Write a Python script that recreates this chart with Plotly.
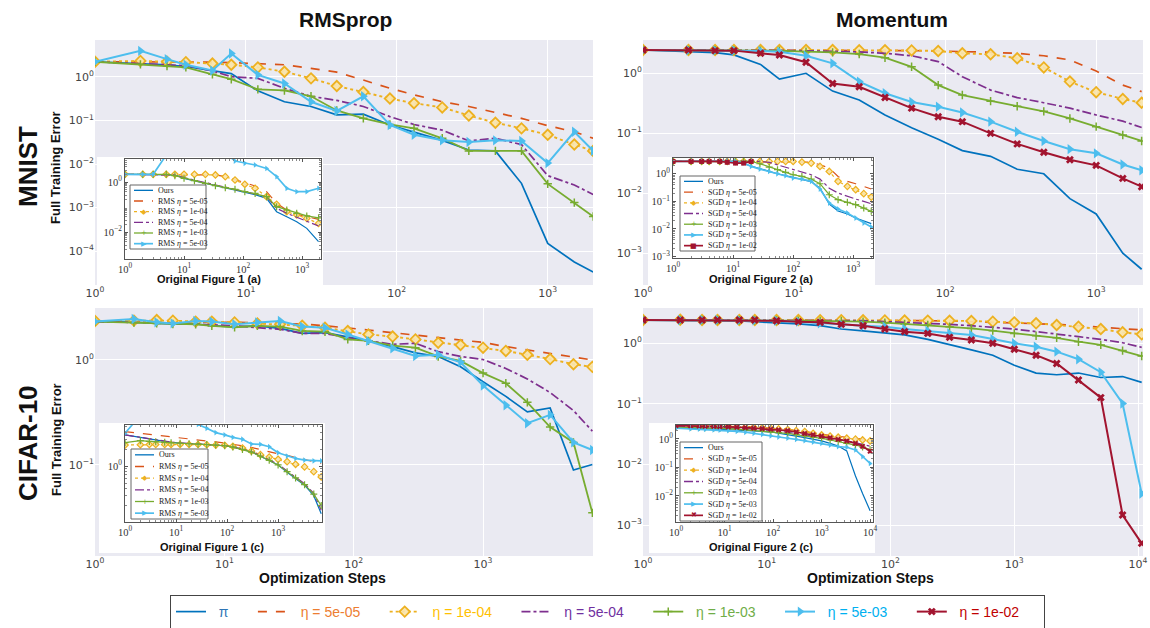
import plotly.graph_objects as go

W, H = 1150, 628

# ---------------- data ----------------
LEGEND_TEXT = ["π", "η = 5e-05", "η = 1e-04", "η = 5e-04", "η = 1e-03", "η = 5e-03", "η = 1e-02"]
LEGEND_TEXT_COLORS = ["#2E75B6", "#ED7D31", "#FFC000", "#7030A0", "#70AD47", "#00B0F0", "#C00000"]
RMS_LABELS = ["Ours", "RMS <i>η</i> = 5e-05", "RMS <i>η</i> = 1e-04", "RMS <i>η</i> = 5e-04",
              "RMS <i>η</i> = 1e-03", "RMS <i>η</i> = 5e-03"]
SGD_LABELS = ["Ours", "SGD <i>η</i> = 5e-05", "SGD <i>η</i> = 1e-04", "SGD <i>η</i> = 5e-04",
              "SGD <i>η</i> = 1e-03", "SGD <i>η</i> = 5e-03", "SGD <i>η</i> = 1e-02"]
COL_TITLES = ["RMSprop", "Momentum"]
ROW_TITLES = ["MNIST", "CIFAR-10"]
Y_TITLE = "Full Training Error"
X_TITLE = "Optimization Steps"
INSET_TITLES = ["Original Figure 1 (a)", "Original Figure 2 (a)", "Original Figure 1 (c)", "Original Figure 2 (c)"]

# main panels ---------------------------------------------------------
steps_mnist = [1, 2, 3, 4, 6, 8, 12, 18, 27, 40, 60, 90, 130, 200, 300, 450, 670, 1000, 1500, 2000]
steps_cifar_rms = [1, 2, 3, 4, 6, 8, 12, 18, 27, 40, 60, 90, 130, 200, 300, 450, 670, 1000, 1500,
                   2200, 3300, 5000, 7000]
steps_cifar_sgd = [1, 2, 3, 4, 6, 8, 12, 18, 27, 40, 60, 90, 130, 200, 300, 450, 670, 1000, 1500,
                   2200, 3300, 5000, 7500, 10700]

rms_mnist_ours = [2.24, 2.0, 1.9, 1.74, 1.38, 1.2, 0.48, 0.27, 0.21, 0.135, 0.14, 0.079, 0.054, 0.035,
                  0.021, 0.020, 0.0036, 1.5e-4, 5.6e-5, 3.3e-5]
rms_mnist_5e5 = [2.24, 2.24, 2.24, 2.19, 2.19, 2.14, 2.04, 1.91, 1.58, 1.29, 0.85, 0.55, 0.39, 0.27,
                 0.21, 0.155, 0.112, 0.076, 0.055, 0.039]
rms_mnist_1e4 = [2.24, 2.34, 2.24, 2.19, 2.04, 1.91, 1.66, 1.32, 0.93, 0.62, 0.45, 0.32, 0.25, 0.20,
                 0.13, 0.089, 0.066, 0.047, 0.028, 0.020]
rms_mnist_5e4 = [2.24, 2.04, 1.95, 1.82, 1.38, 1.02, 0.93, 0.55, 0.36, 0.29, 0.21, 0.123, 0.081, 0.060,
                 0.034, 0.039, 0.028, 0.0054, 0.0033, 0.0020]
rms_mnist_1e3 = [2.24, 1.95, 1.78, 1.66, 1.15, 0.89, 0.52, 0.49, 0.36, 0.17, 0.112, 0.081, 0.066, 0.039,
                 0.020, 0.020, 0.020, 0.0035, 0.0013, 0.00062]
rms_mnist_5e3 = [2.24, 3.98, 2.57, 1.91, 1.41, 3.47, 1.12, 0.71, 0.27, 0.166, 0.36, 0.079, 0.047, 0.035,
                 0.032, 0.035, 0.034, 0.0105, 0.055, 0.020]

sgd_mnist_ours = [2.42, 2.27, 2.18, 2.0, 1.39, 0.79, 0.99, 0.50, 0.355, 0.20, 0.123, 0.079, 0.051, 0.041,
                  0.025, 0.021, 0.0081, 0.0045, 0.0010, 0.00054]
sgd_mnist_5e5 = [2.42, 2.42, 2.42, 2.42, 2.41, 2.41, 2.40, 2.40, 2.39, 2.38, 2.36, 2.33, 2.30, 2.21,
                 2.13, 1.94, 1.65, 1.08, 0.63, 0.49]
sgd_mnist_1e4 = [2.42, 2.42, 2.42, 2.42, 2.42, 2.42, 2.41, 2.41, 2.40, 2.40, 2.38, 2.33, 2.13, 2.05,
                 1.76, 1.24, 0.72, 0.48, 0.37, 0.32]
sgd_mnist_5e4 = [2.42, 2.42, 2.42, 2.41, 2.40, 2.38, 2.35, 2.30, 2.25, 2.13, 1.94, 1.55, 0.87, 0.52,
                 0.39, 0.32, 0.26, 0.20, 0.158, 0.124]
sgd_mnist_1e3 = [2.42, 2.40, 2.39, 2.37, 2.36, 2.35, 2.27, 2.21, 2.07, 1.80, 1.27, 0.63, 0.43, 0.34,
                 0.28, 0.23, 0.175, 0.128, 0.093, 0.074]
sgd_mnist_5e3 = [2.42, 2.40, 2.38, 2.37, 2.33, 2.27, 1.94, 1.45, 0.72, 0.46, 0.33, 0.275, 0.22, 0.155,
                 0.105, 0.074, 0.054, 0.046, 0.030, 0.024]
sgd_mnist_1e2 = [2.42, 2.42, 2.36, 2.36, 2.13, 2.0, 1.51, 0.67, 0.59, 0.39, 0.26, 0.187, 0.155, 0.099,
                 0.066, 0.048, 0.036, 0.029, 0.0176, 0.0128]

rms_cifar_ours = [2.32, 2.29, 2.23, 2.20, 2.20, 2.12, 2.07, 2.11, 2.0, 1.79, 1.82, 1.67, 1.52, 1.34, 1.17,
                  1.08, 0.86, 0.62, 0.45, 0.32, 0.35, 0.0895, 0.101]
rms_cifar_5e5 = [2.35, 2.34, 2.33, 2.32, 2.31, 2.30, 2.28, 2.26, 2.23, 2.20, 2.12, 2.03, 1.93, 1.82, 1.73,
                 1.63, 1.55, 1.47, 1.34, 1.25, 1.16, 1.08, 1.0]
rms_cifar_1e4 = [2.35, 2.37, 2.40, 2.37, 2.32, 2.32, 2.28, 2.23, 2.19, 2.12, 2.03, 1.89, 1.75, 1.67, 1.57,
                 1.46, 1.39, 1.31, 1.22, 1.12, 1.02, 0.91, 0.86]
rms_cifar_5e4 = [2.32, 2.29, 2.26, 2.24, 2.20, 2.16, 2.12, 2.03, 1.96, 1.79, 1.79, 1.63, 1.52, 1.41, 1.44,
                 1.20, 1.08, 1.01, 0.83, 0.66, 0.49, 0.33, 0.21]
rms_cifar_1e3 = [2.32, 2.27, 2.23, 2.20, 2.19, 2.11, 2.05, 2.11, 2.08, 1.89, 1.86, 1.57, 1.52, 1.37, 1.31,
                 1.08, 0.98, 0.75, 0.60, 0.395, 0.23, 0.164, 0.035]
rms_cifar_5e3 = [2.32, 2.46, 2.29, 2.23, 2.35, 2.32, 2.19, 2.28, 2.35, 2.08, 2.03, 1.75, 1.52, 1.29, 1.09,
                 1.12, 0.95, 0.57, 0.37, 0.25, 0.30, 0.164, 0.139]

sgd_cifar_ours = [2.39, 2.39, 2.33, 2.33, 2.31, 2.25, 2.16, 2.06, 1.93, 1.70, 1.58, 1.44, 1.36, 1.15, 0.93,
                  0.77, 0.63, 0.43, 0.32, 0.30, 0.32, 0.27, 0.28, 0.225]
sgd_cifar_5e5 = [2.39, 2.39, 2.39, 2.39, 2.39, 2.39, 2.39, 2.39, 2.38, 2.37, 2.36, 2.35, 2.34, 2.33, 2.31,
                 2.25, 2.19, 2.16, 2.11, 2.03, 1.93, 1.81, 1.74, 1.64]
sgd_cifar_1e4 = [2.39, 2.42, 2.39, 2.39, 2.39, 2.39, 2.39, 2.39, 2.38, 2.38, 2.37, 2.36, 2.35, 2.34, 2.33,
                 2.31, 2.25, 2.19, 2.11, 1.98, 1.86, 1.70, 1.50, 1.39]
sgd_cifar_5e4 = [2.39, 2.39, 2.39, 2.39, 2.39, 2.39, 2.38, 2.37, 2.36, 2.35, 2.33, 2.25, 2.19, 2.11, 2.03,
                 1.93, 1.81, 1.70, 1.54, 1.39, 1.27, 1.15, 1.01, 0.85]
sgd_cifar_1e3 = [2.39, 2.39, 2.39, 2.39, 2.37, 2.36, 2.35, 2.33, 2.32, 2.31, 2.25, 2.16, 2.06, 1.98, 1.86,
                 1.74, 1.60, 1.44, 1.32, 1.22, 1.05, 0.93, 0.75, 0.61]
sgd_cifar_5e3 = [2.39, 2.39, 2.39, 2.39, 2.38, 2.36, 2.33, 2.25, 2.11, 2.03, 1.93, 1.86, 1.70, 1.58, 1.44,
                 1.36, 1.16, 0.99, 0.87, 0.72, 0.54, 0.33, 0.101, 0.0033]
sgd_cifar_1e2 = [2.39, 2.39, 2.39, 2.39, 2.39, 2.39, 2.33, 2.25, 2.19, 2.03, 1.93, 1.70, 1.54, 1.44, 1.24,
                 1.12, 0.99, 0.79, 0.63, 0.46, 0.245, 0.126, 0.00146, 0.0005]

# insets (original figures) ------------------------------------------------
orig_steps_1a = [1, 2, 3, 5, 7, 10, 15, 23, 34, 50, 73, 107, 160, 250, 370, 550, 810, 1200, 1900]
orig_1a_ours = [2.03, 2.03, 2.03, 2.03, 1.91, 1.40, 1.13, 0.885, 0.736, 0.593, 0.479, 0.386, 0.311, 0.222,
                0.065, 0.041, 0.0259, 0.014, 0.0041]
orig_1a_5e5 = [2.03, 2.03, 2.03, 2.03, 2.03, 2.03, 2.03, 2.03, 1.91, 1.63, 1.28, 0.94, 0.69, 0.41, 0.14,
               0.076, 0.051, 0.041, 0.032]
orig_1a_1e4 = [2.03, 2.03, 2.03, 2.03, 2.03, 2.03, 2.03, 2.03, 1.91, 1.63, 1.20, 0.81, 0.56, 0.26, 0.128,
               0.065, 0.048, 0.035, 0.022]
orig_1a_5e4 = [2.03, 2.03, 2.03, 2.03, 1.91, 1.49, 1.20, 0.94, 0.76, 0.61, 0.51, 0.41, 0.33, 0.26, 0.089,
               0.056, 0.039, 0.0275, 0.0174]
orig_1a_1e3 = [2.03, 2.03, 2.03, 2.03, 1.79, 1.40, 1.13, 0.885, 0.71, 0.593, 0.51, 0.41, 0.35, 0.26, 0.103,
               0.076, 0.056, 0.044, 0.037]
orig_1a_5e3 = [2.03, 2.03, 2.03, 12, 30, 40, 40, 35, 25, 15, 6.9, 5.6, 4.8, 3.5, 1.63, 0.56, 0.41, 0.41, 0.56]

orig_steps_2a = [1, 2, 3, 4, 6, 8, 11, 15, 20, 28, 40, 55, 75, 100, 140, 200, 280, 400, 560, 800, 1100,
                 1500, 2000]
orig_2a_ours = [2.79, 2.79, 2.79, 2.79, 2.79, 2.79, 2.6, 2.3, 1.9, 1.5, 1.22, 1.0, 0.85, 0.72, 0.63, 0.52,
                0.30, 0.08, 0.045, 0.035, 0.025, 0.019, 0.0156]
orig_2a_5e5 = [2.79, 2.79, 2.79, 2.79, 2.79, 2.79, 2.79, 2.79, 2.79, 2.79, 2.79, 2.79, 2.79, 2.79, 2.79,
               2.65, 2.11, 1.60, 0.80, 0.53, 0.435, 0.35, 0.28]
orig_2a_1e4 = [2.79, 2.79, 2.79, 2.79, 2.79, 2.79, 2.79, 2.79, 2.79, 2.79, 2.79, 2.79, 2.79, 2.79, 2.65,
               2.43, 1.84, 1.21, 0.53, 0.35, 0.264, 0.19, 0.143]
orig_2a_5e4 = [2.79, 2.79, 2.79, 2.79, 2.79, 2.79, 2.79, 2.79, 2.79, 2.79, 2.57, 2.11, 1.74, 1.40, 1.12,
               0.92, 0.64, 0.30, 0.20, 0.152, 0.121, 0.10, 0.082]
orig_2a_1e3 = [2.79, 2.79, 2.79, 2.79, 2.79, 2.79, 2.79, 2.79, 2.79, 2.30, 1.74, 1.40, 1.12, 0.92, 0.80,
               0.64, 0.435, 0.174, 0.115, 0.092, 0.076, 0.057, 0.0435]
orig_2a_5e3 = [2.79, 2.79, 2.79, 2.79, 2.79, 2.79, 2.79, 2.43, 1.84, 1.47, 1.21, 1.0, 0.85, 0.70, 0.64,
               0.53, 0.28, 0.087, 0.053, 0.038, 0.025, 0.0165, 0.0118]
orig_2a_1e2 = [2.79, 2.79, 2.79, 2.79, 2.79, 2.6, 2.43, 2.43, 2.79]

orig_steps_1c = [1, 2, 3, 4, 6, 8, 12, 18, 27, 40, 60, 90, 130, 200, 300, 450, 670, 1000, 1500, 2200,
                 3300, 5000, 7000]
orig_1c_ours = [3.58, 3.2, 3.0, 2.85, 2.75, 2.65, 2.55, 2.5, 2.45, 2.42, 2.37, 2.3, 2.18, 2.0, 1.8, 1.5,
                1.27, 1.05, 0.78, 0.6, 0.46, 0.3, 0.143]
orig_1c_5e5 = [4.1, 3.8, 3.65, 3.55, 3.4, 3.3, 3.15, 3.0, 2.9, 2.8, 2.7, 2.58, 2.47, 2.3, 2.15, 1.95, 1.80,
               1.65, 1.55, 1.42, 1.32, 1.2, 1.12]
orig_1c_1e4 = [2.37, 2.4, 2.42, 2.42, 2.42, 2.42, 2.42, 2.42, 2.42, 2.4, 2.37, 2.35, 2.25, 2.1, 1.85, 1.6,
               1.45, 1.32, 1.2, 1.08, 0.97, 0.8, 0.645]
orig_1c_5e4 = [3.58, 3.25, 3.05, 2.9, 2.78, 2.68, 2.58, 2.52, 2.47, 2.43, 2.38, 2.31, 2.2, 2.02, 1.82,
               1.53, 1.3, 1.08, 0.82, 0.63, 0.49, 0.33, 0.165]
orig_1c_1e3 = [2.61, 2.83, 2.75, 2.72, 2.65, 2.6, 2.55, 2.5, 2.45, 2.42, 2.37, 2.3, 2.18, 1.98, 1.78, 1.5,
               1.27, 1.05, 0.8, 0.62, 0.47, 0.32, 0.20]
orig_1c_5e3 = [3.83, 8, 9, 10, 10, 10, 9, 7, 5.5, 4.7, 3.94, 3.58, 3.25, 3.0, 2.47, 2.44, 2.21, 1.73, 1.51,
               1.37, 1.28, 1.24, 1.24]

orig_steps_2c = [1, 2, 3, 4, 6, 8, 12, 18, 27, 40, 60, 90, 130, 200, 300, 450, 670, 1000, 1500, 2200,
                 3300, 5000, 7000, 10000]
orig_2c_ours = [2.38, 2.35, 2.3, 2.28, 2.25, 2.2, 2.1, 2.05, 2.0, 1.95, 1.85, 1.75, 1.55, 1.4, 1.25, 1.12,
                1.0, 0.85, 0.7, 0.56, 0.38, 0.05, 0.012, 0.003]
orig_2c_5e5 = [2.95, 2.93, 2.92, 2.9, 2.88, 2.86, 2.82, 2.78, 2.72, 2.65, 2.55, 2.45, 2.35, 2.2, 2.0, 1.85,
               1.65, 1.45, 1.32, 1.22, 1.12, 1.05, 0.98, 0.92]
orig_2c_1e4 = [2.9, 2.9, 2.88, 2.88, 2.85, 2.8, 2.75, 2.7, 2.62, 2.55, 2.45, 2.35, 2.25, 2.15, 1.95, 1.82,
               1.58, 1.38, 1.25, 1.15, 1.06, 0.98, 0.92, 0.85]
orig_2c_5e4 = [2.7, 2.7, 2.65, 2.6, 2.55, 2.5, 2.45, 2.4, 2.3, 2.2, 2.1, 2.0, 1.85, 1.7, 1.55, 1.42, 1.3,
               1.18, 1.05, 0.95, 0.85, 0.75, 0.65, 0.55]
orig_2c_1e3 = [2.58, 2.55, 2.5, 2.45, 2.4, 2.35, 2.3, 2.2, 2.1, 2.0, 1.9, 1.8, 1.67, 1.55, 1.42, 1.28,
               1.15, 1.05, 0.92, 0.82, 0.70, 0.61, 0.52, 0.42]
orig_2c_5e3 = [2.38, 2.25, 2.22, 2.19, 2.1, 2.05, 1.97, 1.85, 1.72, 1.58, 1.45, 1.28, 1.17, 1.06, 0.96,
               0.87, 0.78, 0.70, 0.61, 0.54, 0.51, 0.41, 0.24, 0.138]
orig_2c_1e2 = [2.95, 2.9, 2.85, 2.8, 2.75, 2.7, 2.65, 2.6, 2.5, 2.4, 2.3, 2.2, 2.08, 1.95, 1.75, 1.55,
               1.4, 1.25, 1.1, 0.97, 0.85, 0.7, 0.55, 0.37]

# tick exponents
main_x_exp = [[0, 1, 2, 3], [0, 1, 2, 3], [0, 1, 2, 3], [0, 1, 2, 3, 4]]
main_y_exp = [[0, -1, -2, -3, -4], [0, -1, -2, -3], [0, -1], [0, -1, -2, -3]]
inset_x_exp = [[0, 1, 2, 3], [0, 1, 2, 3], [0, 1, 2, 3], [0, 1, 2, 3, 4]]
inset_y_exp = [[0, -2], [0, -1, -2, -3], [0, -1], [0, -1, -2, -3]]

# ---------------- styles ----------------
COLORS = ["#0072BD", "#D95319", "#EDB120", "#7E2F8E", "#77AC30", "#4DBEEE", "#A2142F"]
DASHES = ["solid", "dash", "dot", "dashdot", "solid", "solid", "solid"]
MAIN_SYMBOLS = [None, None, "diamond", None, "cross-thin", "triangle-right", "x"]
MAIN_WIDTHS = [1.7, 1.7, 1.9, 1.7, 1.8, 2.0, 2.0]
MAIN_MSIZE = [0, 0, 8, 0, 6, 9, 7]
GLYPHS = {"diamond": "◆", "cross-thin": "+", "triangle-right": "▶", "square": "■", "x": "✖"}
NBSP = "\u00a0"


def px(x):
    return x / W


def py(y):
    return 1 - y / H


def sup(e):
    return "10<sup>" + ("\u2212" if e < 0 else "") + str(abs(e)) + "</sup>"


def minor_vals(lo, hi):
    return [m * 10 ** d for d in range(lo, hi) for m in range(2, 10)]


fig = go.Figure()

main_panels = [
    dict(box=(95, 40, 593, 285), xr=[0, 3.30], yr=[-4.78, 0.85], steps=steps_mnist,
         ys=[rms_mnist_ours, rms_mnist_5e5, rms_mnist_1e4, rms_mnist_5e4, rms_mnist_1e3, rms_mnist_5e3]),
    dict(box=(643, 40, 1143, 285), xr=[0, 3.31], yr=[-3.53, 0.55], steps=steps_mnist,
         ys=[sgd_mnist_ours, sgd_mnist_5e5, sgd_mnist_1e4, sgd_mnist_5e4, sgd_mnist_1e3, sgd_mnist_5e3,
             sgd_mnist_1e2]),
    dict(box=(95, 308, 593, 556), xr=[0, 3.85], yr=[-1.867, 0.495], steps=steps_cifar_rms,
         ys=[rms_cifar_ours, rms_cifar_5e5, rms_cifar_1e4, rms_cifar_5e4, rms_cifar_1e3, rms_cifar_5e3]),
    dict(box=(643, 308, 1143, 556), xr=[0, 4.04], yr=[-3.51, 0.577], steps=steps_cifar_sgd,
         ys=[sgd_cifar_ours, sgd_cifar_5e5, sgd_cifar_1e4, sgd_cifar_5e4, sgd_cifar_1e3, sgd_cifar_5e3,
             sgd_cifar_1e2]),
]

inset_panels = [
    dict(box=(125, 159, 321, 259), bg=(97, 157, 323, 285), xr=[0, 3.32], yr=[-3.08, 0.92],
         steps=orig_steps_1a, red="square", title_xy=(209, 279),
         ys=[orig_1a_ours, orig_1a_5e5, orig_1a_1e4, orig_1a_5e4, orig_1a_1e3, orig_1a_5e3],
         labels=RMS_LABELS, legbox=(130, 185, 206, 249)),
    dict(box=(673, 158, 873, 258), bg=(648, 157, 875, 285), xr=[0, 3.33], yr=[-3.05, 0.57],
         steps=orig_steps_2a, red="square", title_xy=(761, 279),
         ys=[orig_2a_ours, orig_2a_5e5, orig_2a_1e4, orig_2a_5e4, orig_2a_1e3, orig_2a_5e3, orig_2a_1e2],
         labels=SGD_LABELS, legbox=(680, 176, 755, 251)),
    dict(box=(125, 425, 322, 522), bg=(99, 423, 325, 553), xr=[0, 3.86], yr=[-0.99, 0.73],
         steps=orig_steps_1c, red="square", title_xy=(212, 547),
         ys=[orig_1c_ours, orig_1c_5e5, orig_1c_1e4, orig_1c_5e4, orig_1c_1e3, orig_1c_5e3],
         labels=RMS_LABELS, legbox=(131, 449, 208, 519)),
    dict(box=(676, 425, 873, 522), bg=(649, 423, 875, 553), xr=[0, 4.06], yr=[-2.92, 0.49],
         steps=orig_steps_2c, red="x", title_xy=(761, 547),
         ys=[orig_2c_ours, orig_2c_5e5, orig_2c_1e4, orig_2c_5e4, orig_2c_1e3, orig_2c_5e3, orig_2c_1e2],
         labels=SGD_LABELS, legbox=(680, 442, 762, 521)),
]

layout_axes = {}
shapes = []
annotations = []

TICKFONT_MAIN = dict(family="DejaVu Sans", size=11, color="#444")
TICKFONT_INSET = dict(family="Liberation Serif", size=10.5, color="#333")

for p in main_panels:
    x0, y0, x1, y1 = p["box"]
    shapes.append(dict(type="rect", xref="paper", yref="paper", x0=px(x0), x1=px(x1), y0=py(y1), y1=py(y0),
                       fillcolor="#EAEAF2", line=dict(width=0), layer="below"))
for p in inset_panels:
    x0, y0, x1, y1 = p["bg"]
    shapes.append(dict(type="rect", xref="paper", yref="paper", x0=px(x0), x1=px(x1), y0=py(y1), y1=py(y0),
                       fillcolor="white", line=dict(width=0), layer="below"))

for k, p in enumerate(main_panels):
    n = k + 1
    xk = "xaxis" if n == 1 else f"xaxis{n}"
    yk = "yaxis" if n == 1 else f"yaxis{n}"
    xr_ = "x" if n == 1 else f"x{n}"
    yr_ = "y" if n == 1 else f"y{n}"
    x0, y0, x1, y1 = p["box"]
    layout_axes[xk] = dict(type="log", domain=[px(x0), px(x1)], range=p["xr"], anchor=yr_,
                           tickmode="array", tickvals=[10 ** e for e in main_x_exp[k]],
                           ticktext=[sup(e) for e in main_x_exp[k]],
                           showgrid=True, gridcolor="white", gridwidth=1.2, zeroline=False,
                           showline=False, ticks="", tickfont=TICKFONT_MAIN, automargin=False)
    layout_axes[yk] = dict(type="log", domain=[py(y1), py(y0)], range=p["yr"], anchor=xr_,
                           tickmode="array", tickvals=[10 ** e for e in main_y_exp[k]],
                           ticktext=[sup(e) for e in main_y_exp[k]],
                           showgrid=True, gridcolor="white", gridwidth=1.2, zeroline=False,
                           showline=False, ticks="", tickfont=TICKFONT_MAIN, automargin=False)
    for i, ys in enumerate(p["ys"]):
        sym = MAIN_SYMBOLS[i]
        marker = None
        if sym == "diamond":
            marker = dict(symbol="diamond", size=MAIN_MSIZE[i], color="rgba(250,228,170,0.9)",
                          line=dict(color=COLORS[i], width=1.8))
        elif sym == "cross-thin":
            marker = dict(symbol="cross-thin", size=MAIN_MSIZE[i], color=COLORS[i],
                          line=dict(color=COLORS[i], width=1.5))
        elif sym is not None:
            marker = dict(symbol=sym, size=MAIN_MSIZE[i], color=COLORS[i], line=dict(width=0))
        show = (k == 1)
        name = (f'<span style="color:{LEGEND_TEXT_COLORS[i]}">{NBSP}{NBSP}{LEGEND_TEXT[i]}</span>'
                + NBSP * 5)
        fig.add_trace(go.Scatter(
            x=p["steps"][:len(ys)], y=ys, xaxis=xr_, yaxis=yr_,
            mode="lines+markers" if marker else "lines",
            line=dict(color=COLORS[i], width=MAIN_WIDTHS[i], dash=DASHES[i]),
            marker=marker, name=name, showlegend=show, legend="legend", hoverinfo="skip"))

for k, p in enumerate(inset_panels):
    n = k + 5
    xk, yk = f"xaxis{n}", f"yaxis{n}"
    xr_, yr_ = f"x{n}", f"y{n}"
    x0, y0, x1, y1 = p["box"]
    xe, ye = inset_x_exp[k], inset_y_exp[k]
    common = dict(type="log", showgrid=False, zeroline=False, showline=True, mirror="ticks",
                  linecolor="#555", linewidth=1, ticks="inside", ticklen=3, tickcolor="#555",
                  tickfont=TICKFONT_INSET, tickmode="array", automargin=False)
    layout_axes[xk] = dict(common, domain=[px(x0), px(x1)], range=p["xr"], anchor=yr_,
                           tickvals=[10 ** e for e in xe], ticktext=[sup(e) for e in xe],
                           minor=dict(ticks="inside", ticklen=2, tickcolor="#888", tickmode="array",
                                      tickvals=minor_vals(0, int(p["xr"][1]) + 1)))
    layout_axes[yk] = dict(common, domain=[py(y1), py(y0)], range=p["yr"], anchor=xr_,
                           tickvals=[10 ** e for e in ye], ticktext=[sup(e) for e in ye],
                           minor=dict(ticks="inside", ticklen=2, tickcolor="#888", tickmode="array",
                                      tickvals=minor_vals(int(p["yr"][0]) - 1, 1)))
    syms = [None, None, "diamond", None, "cross-thin", "triangle-right", p["red"]]
    for i, ys in enumerate(p["ys"]):
        sym = syms[i]
        marker = None
        if sym == "diamond":
            marker = dict(symbol="diamond", size=5, color="rgba(250,228,170,0.9)",
                          line=dict(color=COLORS[i], width=1.2))
        elif sym == "cross-thin":
            marker = dict(symbol="cross-thin", size=5, color=COLORS[i], line=dict(color=COLORS[i], width=1.2))
        elif sym is not None:
            marker = dict(symbol=sym, size=5, color=COLORS[i], line=dict(width=0))
        fig.add_trace(go.Scatter(
            x=p["steps"][:len(ys)], y=ys, xaxis=xr_, yaxis=yr_,
            mode="lines+markers" if marker else "lines",
            line=dict(color=COLORS[i], width=1.7 if i >= 5 else 1.2, dash=DASHES[i]),
            marker=marker, showlegend=False, hoverinfo="skip"))
    tx, ty = p["title_xy"]
    annotations.append(dict(text="<b>" + INSET_TITLES[k] + "</b>", x=px(tx), y=py(ty), xref="paper",
                            yref="paper", showarrow=False, xanchor="center", yanchor="middle",
                            font=dict(family="Liberation Sans", size=11, color="#111")))
    lx0, ly0, lx1, ly1 = p["legbox"]
    shapes.append(dict(type="rect", xref="paper", yref="paper", x0=px(lx0), x1=px(lx1), y0=py(ly1),
                       y1=py(ly0), fillcolor="white", line=dict(color="#666", width=1), layer="above"))
    nl = len(p["labels"])
    rowh = (ly1 - ly0) / nl
    for i, lab in enumerate(p["labels"]):
        yc = ly0 + (i + 0.5) * rowh
        shapes.append(dict(type="line", xref="paper", yref="paper", x0=px(lx0 + 4), x1=px(lx0 + 23),
                           y0=py(yc), y1=py(yc), layer="above",
                           line=dict(color=COLORS[i], width=1.7 if i >= 5 else 1.3, dash=DASHES[i])))
        if syms[i] is not None:
            annotations.append(dict(text=GLYPHS[syms[i]], x=px(lx0 + 13.5), y=py(yc), xref="paper",
                                    yref="paper", showarrow=False, xanchor="center", yanchor="middle",
                                    font=dict(family="DejaVu Sans", size=7, color=COLORS[i])))
        annotations.append(dict(text=lab, x=px(lx0 + 26), y=py(yc), xref="paper", yref="paper",
                                showarrow=False, xanchor="left", yanchor="middle",
                                font=dict(family="Liberation Serif", size=8, color="#222")))

for txt, xc in zip(COL_TITLES, [345, 892]):
    annotations.append(dict(text="<b>" + txt + "</b>", x=px(xc), y=py(19), xref="paper", yref="paper",
                            showarrow=False, xanchor="center", yanchor="middle",
                            font=dict(family="Liberation Sans", size=21, color="#111")))
for txt, yc in zip(ROW_TITLES, [167, 443]):
    annotations.append(dict(text="<b>" + txt + "</b>", x=px(28), y=py(yc), xref="paper", yref="paper",
                            showarrow=False, xanchor="center", yanchor="middle", textangle=-90,
                            font=dict(family="Liberation Sans", size=26, color="#111")))
for yc in [168, 440]:
    annotations.append(dict(text="<b>" + Y_TITLE + "</b>", x=px(56), y=py(yc), xref="paper", yref="paper",
                            showarrow=False, xanchor="center", yanchor="middle", textangle=-90,
                            font=dict(family="Liberation Sans", size=13, color="#111")))
for xc in [322, 870]:
    annotations.append(dict(text="<b>" + X_TITLE + "</b>", x=px(xc), y=py(578), xref="paper", yref="paper",
                            showarrow=False, xanchor="center", yanchor="middle",
                            font=dict(family="Liberation Sans", size=14, color="#111")))

fig.update_layout(
    width=W, height=H, margin=dict(l=0, r=0, t=0, b=0, autoexpand=False),
    paper_bgcolor="white", plot_bgcolor="white",
    shapes=shapes, annotations=annotations,
    legend=dict(orientation="h", x=px(170), y=py(595), xanchor="left", yanchor="top",
                bgcolor="white", bordercolor="#444", borderwidth=1,
                entrywidth=0, entrywidthmode="pixels", itemwidth=30,
                font=dict(family="Liberation Sans", size=14, color="#333")),
    **layout_axes,
)

fig.write_html("out.html", config={"displayModeBar": False},
               post_script="document.body.style.margin='0px';document.body.style.padding='0px';")
